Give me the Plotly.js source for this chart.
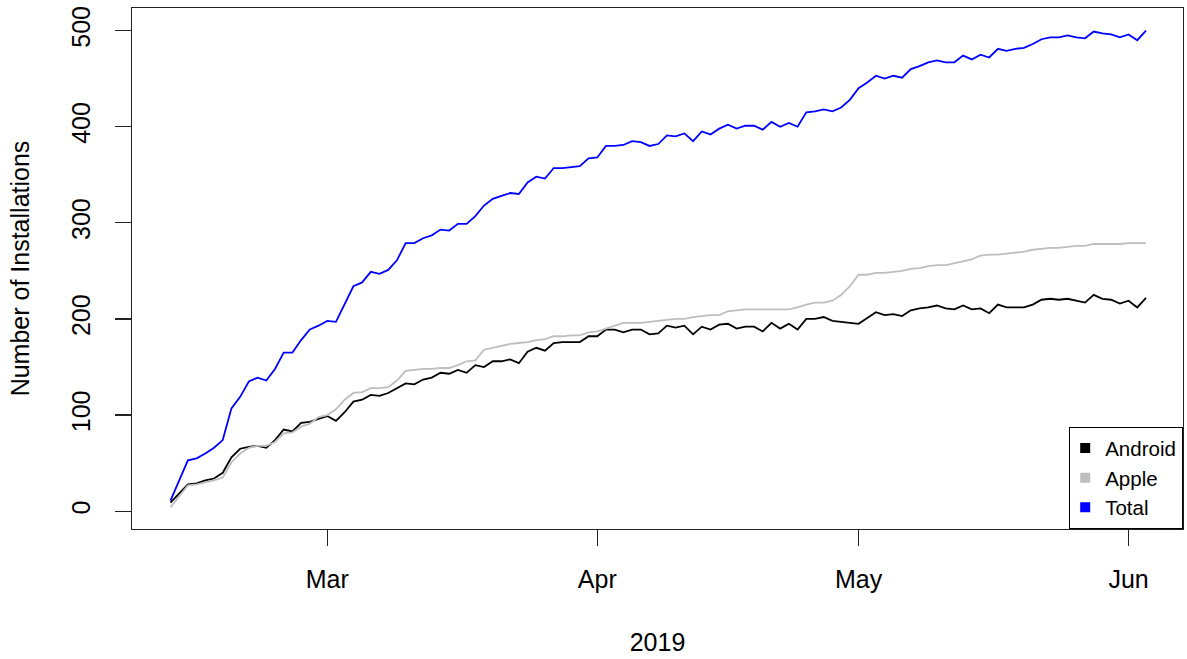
<!DOCTYPE html>
<html>
<head>
<meta charset="utf-8">
<script src="https://cdn.plot.ly/plotly-3.0.1.min.js"></script>
<style>
  html, body { margin: 0; padding: 0; background: #fff; }
  #chart { width: 1187px; height: 659px; }
</style>
</head>
<body>
<div id="chart"></div>
<script>
// Daily observations, 11 Feb 2019 – 3 Jun 2019
const dates = [
  "2019-02-11","2019-02-12","2019-02-13","2019-02-14","2019-02-15","2019-02-16","2019-02-17","2019-02-18","2019-02-19","2019-02-20",
  "2019-02-21","2019-02-22","2019-02-23","2019-02-24","2019-02-25","2019-02-26","2019-02-27","2019-02-28",
  "2019-03-01","2019-03-02","2019-03-03","2019-03-04","2019-03-05","2019-03-06","2019-03-07","2019-03-08","2019-03-09","2019-03-10",
  "2019-03-11","2019-03-12","2019-03-13","2019-03-14","2019-03-15","2019-03-16","2019-03-17","2019-03-18","2019-03-19","2019-03-20",
  "2019-03-21","2019-03-22","2019-03-23","2019-03-24","2019-03-25","2019-03-26","2019-03-27","2019-03-28","2019-03-29","2019-03-30","2019-03-31",
  "2019-04-01","2019-04-02","2019-04-03","2019-04-04","2019-04-05","2019-04-06","2019-04-07","2019-04-08","2019-04-09","2019-04-10",
  "2019-04-11","2019-04-12","2019-04-13","2019-04-14","2019-04-15","2019-04-16","2019-04-17","2019-04-18","2019-04-19","2019-04-20",
  "2019-04-21","2019-04-22","2019-04-23","2019-04-24","2019-04-25","2019-04-26","2019-04-27","2019-04-28","2019-04-29","2019-04-30",
  "2019-05-01","2019-05-02","2019-05-03","2019-05-04","2019-05-05","2019-05-06","2019-05-07","2019-05-08","2019-05-09","2019-05-10",
  "2019-05-11","2019-05-12","2019-05-13","2019-05-14","2019-05-15","2019-05-16","2019-05-17","2019-05-18","2019-05-19","2019-05-20",
  "2019-05-21","2019-05-22","2019-05-23","2019-05-24","2019-05-25","2019-05-26","2019-05-27","2019-05-28","2019-05-29","2019-05-30","2019-05-31",
  "2019-06-01","2019-06-02","2019-06-03"
];

const android = [
  9,19,28,29,32,34,40,56,65,67,
  68,66,74,85,83,92,93,96,
  99,94,103,114,116,121,120,123,128,133,
  132,137,139,144,143,147,144,152,150,156,
  156,158,154,166,170,167,175,176,176,176,182,
  182,189,189,186,189,189,184,185,193,191,
  193,184,192,189,194,195,190,192,192,187,
  196,190,195,189,200,200,202,198,197,196,
  195,201,207,204,205,203,209,211,212,214,
  211,210,214,210,211,206,215,212,212,212,
  215,220,221,220,221,219,217,225,221,220,216,
  219,212,222
];

const apple = [
  4,15,27,28,30,32,35,51,60,66,
  68,68,72,81,82,88,91,98,
  100,106,116,123,124,128,128,129,136,146,
  147,148,148,149,149,152,156,157,168,170,
  172,174,175,176,178,179,182,182,183,183,186,
  187,190,193,196,196,196,197,198,199,200,
  200,202,203,204,204,208,209,210,210,210,
  210,210,210,212,215,217,217,219,225,234,
  246,246,248,248,249,250,252,253,255,256,
  256,258,260,262,266,267,267,268,269,270,
  272,273,274,274,275,276,276,278,278,278,278,
  279,279,279
];

const total = [
  11,32,53,55,60,66,74,107,119,135,
  139,136,148,165,165,178,189,193,
  198,197,216,234,238,249,247,251,261,279,
  279,284,287,293,292,299,299,307,318,325,
  328,331,330,342,348,346,357,357,358,359,367,
  368,380,380,381,385,384,380,382,391,390,
  393,385,395,392,398,402,398,401,401,397,
  405,400,404,400,415,416,418,416,420,428,
  440,446,453,450,453,451,460,463,467,469,
  467,467,474,470,475,472,481,479,481,482,
  486,491,493,493,495,493,492,499,497,496,493,
  496,490,500
];

const seriesNames = ["Android", "Apple", "Total"];
const seriesColors = ["#000000", "#bebebe", "#0000ff"];

const xTickVals = ["2019-03-01", "2019-04-01", "2019-05-01", "2019-06-01"];
const xTickText = ["Mar", "Apr", "May", "Jun"];
const yTickVals = [0, 100, 200, 300, 400, 500];

const FONT = "Liberation Sans, Arial, Helvetica, sans-serif";
const seriesData = [android, apple, total];

const traces = [];
seriesData.forEach((vals, i) => {
  traces.push({
    type: "scatter", mode: "lines",
    x: dates, y: vals,
    name: seriesNames[i],
    line: { color: seriesColors[i], width: 1.8 },
    showlegend: false,
    hoverinfo: "x+y+name"
  });
});
// legend entries drawn as filled squares, as in the original
seriesNames.forEach((nm, i) => {
  traces.push({
    type: "scatter", mode: "markers",
    x: [null], y: [null],
    name: nm,
    marker: { symbol: "square", size: 10, color: seriesColors[i] },
    showlegend: true
  });
});

const layout = {
  width: 1187, height: 659,
  margin: { l: 132, r: 4, t: 8, b: 130 },
  paper_bgcolor: "#ffffff", plot_bgcolor: "#ffffff",
  font: { family: FONT, color: "#000", size: 25 },
  showlegend: true,
  legend: {
    x: 1, xanchor: "right", y: 0, yanchor: "bottom",
    bgcolor: "#ffffff", bordercolor: "#000", borderwidth: 1.2,
    font: { family: FONT, size: 20.5, color: "#000" },
    itemwidth: 30, tracegroupgap: 0, indentation: -5
  },
  xaxis: {
    type: "date",
    range: ["2019-02-06 14:00", "2019-06-07 06:00"],
    tickmode: "array", tickvals: xTickVals, ticktext: xTickText,
    ticks: "outside", ticklen: 16, tickwidth: 1.3, tickcolor: "#222",
    ticklabelstandoff: 12,
    showline: true, mirror: true, linecolor: "#222", linewidth: 1.3,
    showgrid: false, zeroline: false,
    tickfont: { family: FONT, size: 25, color: "#000" },
    title: { text: "2019", font: { family: FONT, size: 25, color: "#000" }, standoff: 41 }
  },
  yaxis: {
    range: [-18.5, 523.5],
    tickmode: "array", tickvals: yTickVals,
    tickangle: -90,
    ticks: "outside", ticklen: 16, tickwidth: 1.3, tickcolor: "#222",
    ticklabelstandoff: 15,
    showline: true, mirror: true, linecolor: "#222", linewidth: 1.3,
    showgrid: false, zeroline: false,
    tickfont: { family: FONT, size: 25, color: "#000" },
    title: { text: "Number of Installations", font: { family: FONT, size: 25, color: "#000" }, standoff: 30 }
  }
};

Plotly.newPlot("chart", traces, layout, { staticPlot: true, displayModeBar: false });
</script>
</body>
</html>
